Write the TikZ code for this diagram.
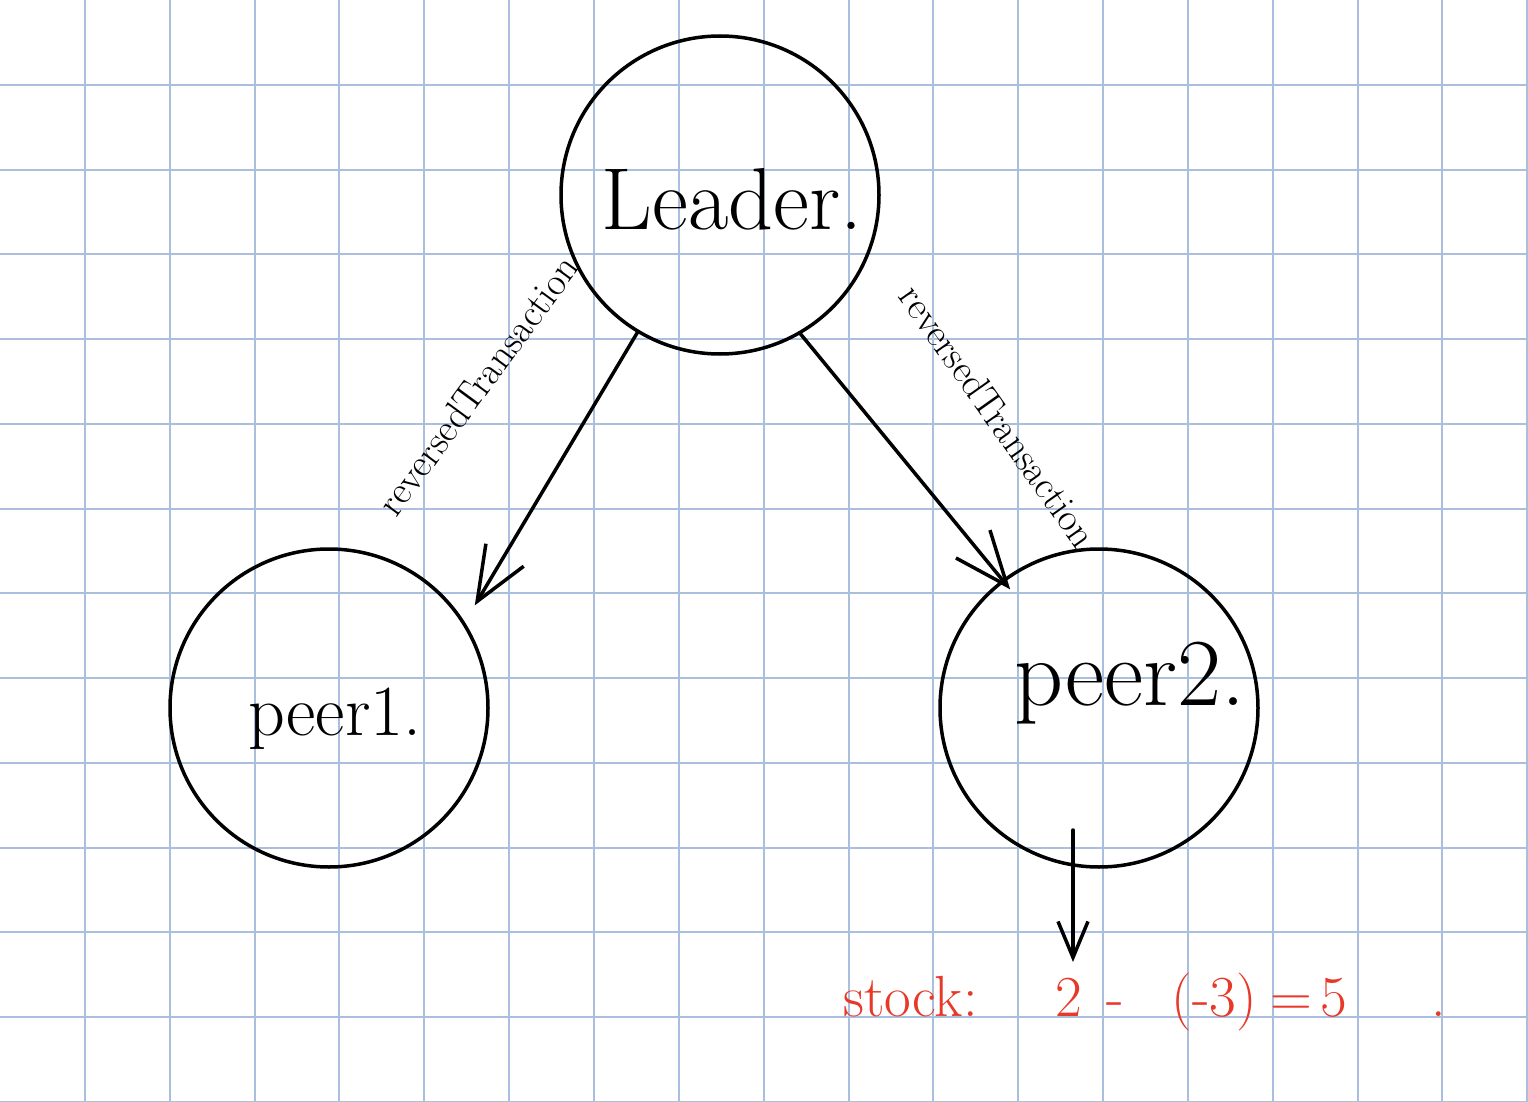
\documentclass[tikz,border=0pt]{standalone}
\usetikzlibrary{arrows.meta,calc}
\definecolor{gridblue}{RGB}{170,190,221}
\definecolor{inkred}{RGB}{232,56,40}
\begin{document}
\begin{tikzpicture}[x=0.5pt,y=-0.5pt,
  ring/.style={circle,draw=black,line width=1.75pt,minimum size=159pt,inner sep=0pt,outer sep=0pt},
  conn/.style={line width=1.75pt,line cap=round,-{Straight Barb[length=27pt,width=22pt,line width=1.75pt]}},
  smallconn/.style={line width=1.75pt,line cap=round,-{Straight Barb[length=18pt,width=15pt,line width=1.75pt]}},
  edgelabel/.style={font=\fontsize{19.5}{24}\selectfont,inner sep=1pt}
]
\useasboundingbox (0,0) rectangle (1528,1102);
\fill[white] (0,0) rectangle (1528,1102);
% grid
\foreach \k in {1,...,18} \draw[gridblue,line width=1pt] (\k*84.85,0) -- (\k*84.85,1102);
\foreach \k in {1,...,13} \draw[gridblue,line width=1pt] (0,\k*84.77) -- (1528,\k*84.77);
% nodes
\node[ring,font=\fontsize{44}{50}\selectfont] (leader) at (720,195) {\raisebox{-17.5pt}[0pt][0pt]{\hspace*{12pt}Leader.}};
\node[ring,font=\fontsize{36}{42}\selectfont] (peer1) at (329,708) {\raisebox{-13.5pt}[0pt][0pt]{\hspace*{6pt}peer1.}};
\node[ring,font=\fontsize{48}{54}\selectfont] (peer2) at (1099,708) {\raisebox{1.5pt}[0pt][0pt]{\hspace*{31pt}peer2.}};
% connectors
\draw[conn,shorten >=10.7pt] (leader.239.5) -- (peer1.32.6);
\draw[conn,shorten >=-5.4pt] (leader.300.3) -- (peer2.127.9);
\coordinate (stocktip) at (1073,962);
\draw[smallconn] ($(peer2.center)+(-26,122)$) -- (stocktip);
% edge labels
\node[edgelabel,rotate=53.7] (lab1) at (478,385) {reversedTransaction};
\node[edgelabel,rotate=-54.7] (lab2) at (998,416) {reversedTransaction};
% result
\node[anchor=base west,text=inkred,font=\fontsize{29}{34}\selectfont,inner sep=0pt] (stock) at (843,1016) {stock:\hspace{39pt}2\hspace{12pt}-\hspace{24pt}(-3)\hspace{7pt}=\hspace{4pt}5\hspace{42pt}.};
\end{tikzpicture}
\end{document}
